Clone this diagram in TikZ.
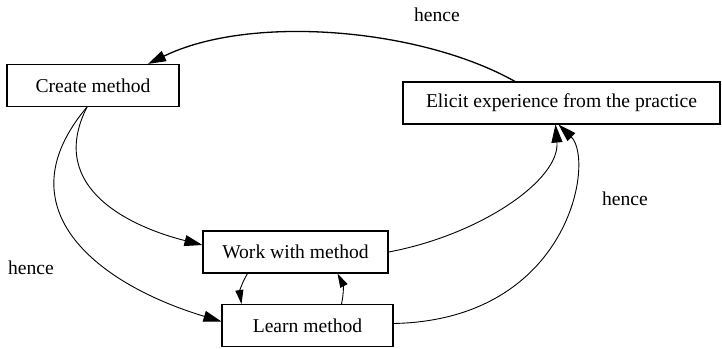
\documentclass[tikz,border=0pt]{standalone}
\usepackage{fontspec}
\setmainfont{Liberation Serif}
\usetikzlibrary{arrows.meta}

\begin{document}
\begin{tikzpicture}[x=1pt,y=-1pt,>={Triangle[length=18pt,width=11pt]},
  box node/.style={rectangle,draw,line width=1.1pt,minimum height=42pt,inner sep=0pt,font=\fontsize{19.6}{23}\selectfont},
  label node/.style={font=\fontsize{19.6}{23}\selectfont},
  link/.style={->,line width=0.9pt},
  small link/.style={-{Triangle[length=14pt,width=8pt]},line width=0.9pt}]
  \useasboundingbox (0,0) rectangle (722,348);
  \node[box node,minimum width=172pt] (create) at (93,85.5) {Create method};
  \node[box node,minimum width=317pt] (elicit) at (561.5,103) {Elicit experience from the practice};
  \node[box node,minimum width=185pt] (work) at (295.5,252) {Work with method};
  \node[box node,minimum width=171pt] (learn) at (307.5,325.5) {Learn method};
  \node[label node] (hence1) at (437,15) {hence};
  \node[label node] (hence2) at (625,199) {hence};
  \node[label node] (hence3) at (31,268) {hence};
  % loop back to the start
  \draw[link,line width=1.3pt] ([xshift=-46.5pt]elicit.north) .. controls (420,28) and (250,14) .. ([xshift=55pt]create.north);
  \draw[link] ([xshift=-6pt]create.south) .. controls (45,190) and (135,228) .. ([yshift=7pt]work.west);
  \draw[link] ([xshift=-6pt]create.south) .. controls (0,210) and (100,285) .. ([yshift=4pt]learn.west);
  \draw[link] (work.east) .. controls (480,235) and (560,180) .. ([xshift=-6pt]elicit.south);
  \draw[link] ([yshift=2pt]learn.east) .. controls (570,320) and (595,160) .. ([xshift=-3pt]elicit.south);
  % between work and learn
  \draw[small link] ([xshift=-48pt]work.south) to[bend right=20] ([xshift=-66pt]learn.north);
  \draw[small link] ([xshift=34pt]learn.north) to[bend right=20] ([xshift=42pt]work.south);
\end{tikzpicture}
\end{document}
